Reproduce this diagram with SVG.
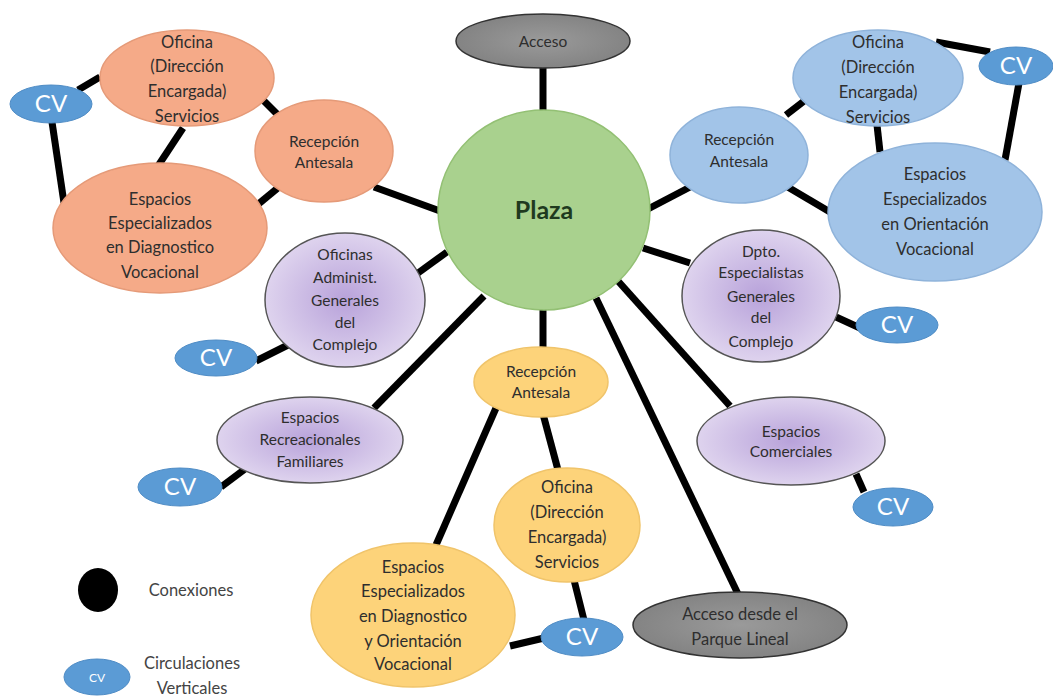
<svg xmlns="http://www.w3.org/2000/svg" width="1053" height="698" viewBox="0 0 1053 698">
<style>
.c{stroke:#000;stroke-width:7;stroke-linecap:butt}
.t{font-family:Lato,"Open Sans","Liberation Sans",sans-serif;fill:#2e2e2e;text-anchor:middle;font-size:16.5px}
.s{font-size:15.5px}
.lg{font-size:16.5px;fill:#444}
.cvt{font-family:Lato,"Open Sans","Liberation Sans",sans-serif;fill:#fff;text-anchor:middle;font-size:24px}
.or{fill:#f5aa88;stroke:#e59a78;stroke-width:1.5}
.bl{fill:#a2c4e8;stroke:#8fb3da;stroke-width:1.5}
.pu{fill:url(#pg);stroke:#555;stroke-width:1.5}
.ye{fill:#fdd37a;stroke:#f0c46a;stroke-width:1.5}
.gr{fill:url(#gg);stroke:#333;stroke-width:1.5}
.cv{fill:#5b9bd5;stroke:#4f8cc5;stroke-width:1}
</style>
<defs>
<radialGradient id="pg" cx="50%" cy="50%" r="55%">
<stop offset="0" stop-color="#b8a2da"/>
<stop offset="1" stop-color="#e2d8f0"/>
</radialGradient>
<radialGradient id="gg" cx="50%" cy="50%" r="60%">
<stop offset="0" stop-color="#9a9a9a"/>
<stop offset="1" stop-color="#7f7f7f"/>
</radialGradient>
</defs>
<rect width="1053" height="698" fill="#fff"/>
<g id="connectors">
<line class="c" x1="543" y1="66" x2="543" y2="112"/>
<line class="c" x1="78" y1="90" x2="100" y2="77"/>
<line class="c" x1="52" y1="122" x2="64" y2="203"/>
<line class="c" x1="183" y1="128" x2="158" y2="166"/>
<line class="c" x1="259" y1="96" x2="279" y2="116"/>
<line class="c" x1="279" y1="187" x2="256" y2="206"/>
<line class="c" x1="374" y1="187" x2="440" y2="211"/>
<line class="c" x1="648" y1="209" x2="692" y2="186"/>
<line class="c" x1="786" y1="115" x2="808" y2="98"/>
<line class="c" x1="786" y1="186" x2="830" y2="212"/>
<line class="c" x1="877" y1="125" x2="880" y2="152"/>
<line class="c" x1="936" y1="42" x2="990" y2="52"/>
<line class="c" x1="1019" y1="83" x2="1005" y2="160"/>
<line class="c" x1="418" y1="273" x2="447" y2="252"/>
<line class="c" x1="256" y1="361" x2="290" y2="344"/>
<line class="c" x1="484" y1="296" x2="374" y2="408"/>
<line class="c" x1="221" y1="487" x2="245" y2="469"/>
<line class="c" x1="543" y1="308" x2="543" y2="349"/>
<line class="c" x1="543" y1="414" x2="558" y2="470"/>
<line class="c" x1="496" y1="408" x2="436" y2="545"/>
<line class="c" x1="574" y1="580" x2="584" y2="620"/>
<line class="c" x1="510" y1="646" x2="544" y2="638"/>
<line class="c" x1="596" y1="298" x2="738" y2="594"/>
<line class="c" x1="618" y1="281" x2="730" y2="406"/>
<line class="c" x1="643" y1="248" x2="690" y2="263"/>
<line class="c" x1="836" y1="317" x2="860" y2="328"/>
<line class="c" x1="856" y1="474" x2="864" y2="492"/>
</g>
<g id="acceso"><ellipse class="gr" cx="543" cy="41" rx="87" ry="27"/><text class="t" x="543" y="47" style="font-size:15.5px">Acceso</text></g>
<g id="plaza"><ellipse cx="544" cy="210" rx="106" ry="100" fill="#a9d18e" stroke="#93c074" stroke-width="1.5"/><text x="544" y="219" style="font-family:Lato,'Open Sans','Liberation Sans',sans-serif;font-size:25px;font-weight:bold;fill:#1f3a1f;text-anchor:middle">Plaza</text></g>
<g id="or-oficina"><ellipse class="or" cx="187" cy="78" rx="87" ry="48"/><text class="t" x="187" y="48">Oficina</text><text class="t" x="187" y="72">(Dirección</text><text class="t" x="187" y="97">Encargada)</text><text class="t" x="187" y="122">Servicios</text></g>
<g id="or-cv"><ellipse class="cv" cx="51" cy="104" rx="41" ry="19"/><text class="cvt" x="51" y="112">CV</text></g>
<g id="or-recepcion"><ellipse class="or" cx="324" cy="151" rx="69" ry="51"/><text class="t s" x="324" y="147">Recepción</text><text class="t s" x="324" y="168">Antesala</text></g>
<g id="or-espacios"><ellipse class="or" cx="160" cy="228" rx="107" ry="65"/><text class="t" x="160" y="205">Espacios</text><text class="t" x="160" y="229">Especializados</text><text class="t" x="160" y="253">en Diagnostico</text><text class="t" x="160" y="278">Vocacional</text></g>
<g id="bl-oficina"><ellipse class="bl" cx="878" cy="78" rx="85" ry="48"/><text class="t" x="878" y="48">Oficina</text><text class="t" x="878" y="73">(Dirección</text><text class="t" x="878" y="98">Encargada)</text><text class="t" x="878" y="123">Servicios</text></g>
<g id="bl-cv"><ellipse class="cv" cx="1016" cy="66" rx="37" ry="19"/><text class="cvt" x="1016" y="74">CV</text></g>
<g id="bl-recepcion"><ellipse class="bl" cx="739" cy="155" rx="69" ry="48"/><text class="t s" x="739" y="145">Recepción</text><text class="t s" x="739" y="167">Antesala</text></g>
<g id="bl-espacios"><ellipse class="bl" cx="935" cy="212" rx="107" ry="69"/><text class="t" x="935" y="180">Espacios</text><text class="t" x="935" y="205">Especializados</text><text class="t" x="935" y="230">en Orientación</text><text class="t" x="935" y="255">Vocacional</text></g>
<g id="pu-oficinas"><ellipse class="pu" cx="345" cy="300" rx="80" ry="67"/><text class="t s" x="345" y="260">Oficinas</text><text class="t s" x="345" y="283">Administ.</text><text class="t s" x="345" y="306">Generales</text><text class="t s" x="345" y="328">del</text><text class="t s" x="345" y="350">Complejo</text></g>
<g id="pu-oficinas-cv"><ellipse class="cv" cx="216" cy="358" rx="41" ry="18"/><text class="cvt" x="216" y="366">CV</text></g>
<g id="pu-recreacionales"><ellipse class="pu" cx="310" cy="440" rx="93" ry="43"/><text class="t s" x="310" y="423">Espacios</text><text class="t s" x="310" y="445">Recreacionales</text><text class="t s" x="310" y="467">Familiares</text></g>
<g id="pu-recreacionales-cv"><ellipse class="cv" cx="180" cy="487" rx="42" ry="19"/><text class="cvt" x="180" y="495">CV</text></g>
<g id="pu-dpto"><ellipse class="pu" cx="761" cy="296" rx="79" ry="66"/><text class="t s" x="761" y="257">Dpto.</text><text class="t s" x="761" y="278">Especialistas</text><text class="t s" x="761" y="302">Generales</text><text class="t s" x="761" y="323">del</text><text class="t s" x="761" y="347">Complejo</text></g>
<g id="pu-dpto-cv"><ellipse class="cv" cx="897" cy="325" rx="41" ry="18"/><text class="cvt" x="897" y="333">CV</text></g>
<g id="pu-comerciales"><ellipse class="pu" cx="791" cy="441" rx="94" ry="44"/><text class="t s" x="791" y="437">Espacios</text><text class="t s" x="791" y="457">Comerciales</text></g>
<g id="pu-comerciales-cv"><ellipse class="cv" cx="893" cy="507" rx="40" ry="19"/><text class="cvt" x="893" y="515">CV</text></g>
<g id="ye-recepcion"><ellipse class="ye" cx="541" cy="382" rx="67" ry="35"/><text class="t s" x="541" y="377">Recepción</text><text class="t s" x="541" y="398">Antesala</text></g>
<g id="ye-oficina"><ellipse class="ye" cx="567" cy="525" rx="73" ry="57"/><text class="t" x="567" y="493">Oficina</text><text class="t" x="567" y="518">(Dirección</text><text class="t" x="567" y="543">Encargada)</text><text class="t" x="567" y="568">Servicios</text></g>
<g id="ye-espacios"><ellipse class="ye" cx="413" cy="615" rx="102" ry="72"/><text class="t" x="413" y="573">Espacios</text><text class="t" x="413" y="597">Especializados</text><text class="t" x="413" y="622">en Diagnostico</text><text class="t" x="413" y="647">y Orientación</text><text class="t" x="413" y="670">Vocacional</text></g>
<g id="ye-cv"><ellipse class="cv" cx="582" cy="637" rx="41" ry="19"/><text class="cvt" x="582" y="645">CV</text></g>
<g id="acceso-parque"><ellipse class="gr" cx="740" cy="625" rx="107" ry="33"/><text class="t" x="740" y="620">Acceso desde el</text><text class="t" x="740" y="645">Parque Lineal</text></g>
<g id="legend">
<ellipse cx="98" cy="590" rx="20" ry="22" fill="#000"/>
<text class="t lg" x="191" y="596">Conexiones</text>
<ellipse class="cv" cx="97" cy="677" rx="33" ry="18"/>
<text class="cvt" x="97" y="682" style="font-size:12px">CV</text>
<text class="t lg" x="192" y="669">Circulaciones</text>
<text class="t lg" x="192" y="694">Verticales</text>
</g>
</svg>
